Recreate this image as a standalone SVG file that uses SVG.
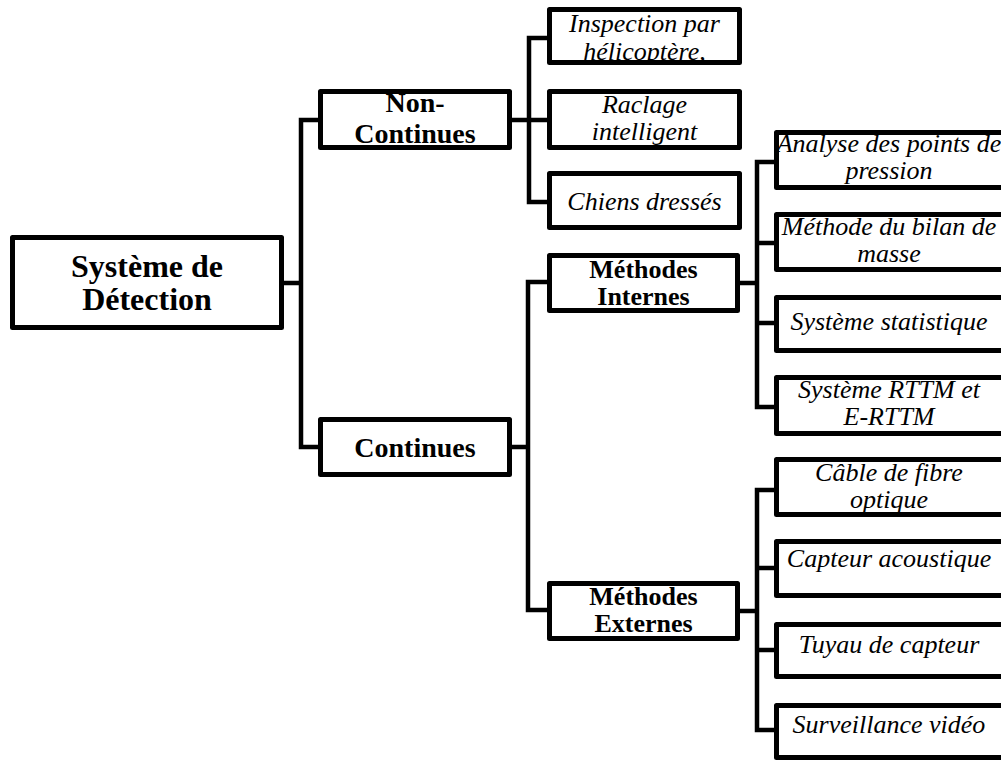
<svg xmlns="http://www.w3.org/2000/svg" width="1001" height="762" viewBox="0 0 1001 762">
<style>
.box{fill:#fff;stroke:#000;stroke-width:5;stroke-linejoin:round}
.con{fill:none;stroke:#000;stroke-width:4.5;stroke-linejoin:miter;stroke-linecap:square}
text{font-family:'Liberation Serif','DejaVu Serif',serif;text-anchor:middle;fill:#000}
.b{font-weight:bold}
.i{font-style:italic;font-size:26px}
</style>
<rect width="1001" height="762" fill="#fff"/>
<g id="connectors">
<path class="con" d="M284 283H301M301 120V447M301 120H318M301 447H318"/>
<path class="con" d="M512 120H529M529 38V202M529 38H547M529 120H547M529 202H547"/>
<path class="con" d="M512 447H528M528 282V610M528 282H547M528 610H547"/>
<path class="con" d="M740 283H757M757 162V407M757 162H774M757 243H774M757 323H774M757 407H774"/>
<path class="con" d="M740 611H757M757 490V730M757 490H774M757 568H774M757 650H774M757 730H774"/>
</g>
<g id="root">
<rect class="box" x="12.5" y="237.5" width="269" height="90"/>
<text class="b" font-size="32" x="147" y="277">Système de</text>
<text class="b" font-size="32" x="147" y="310">Détection</text>
</g>
<g id="non-continues">
<rect class="box" x="320.5" y="91.5" width="189" height="56"/>
<text class="b" font-size="28" x="415" y="112">Non-</text>
<text class="b" font-size="28" x="415" y="143">Continues</text>
</g>
<g id="continues">
<rect class="box" x="320.5" y="419.5" width="189" height="55"/>
<text class="b" font-size="28" x="415" y="457">Continues</text>
</g>
<g id="methodes-internes">
<rect class="box" x="549.5" y="255.5" width="188" height="55"/>
<text class="b" font-size="26" x="643.5" y="278">Méthodes</text>
<text class="b" font-size="26" x="643.5" y="305">Internes</text>
</g>
<g id="methodes-externes">
<rect class="box" x="549.5" y="583.5" width="188" height="55"/>
<text class="b" font-size="26" x="643.5" y="605">Méthodes</text>
<text class="b" font-size="26" x="643.5" y="632">Externes</text>
</g>
<g id="inspection">
<rect class="box" x="549.5" y="9.5" width="190" height="53"/>
<text class="i" x="644.5" y="32">Inspection par</text>
<text class="i" x="644.5" y="60">hélicoptère,</text>
</g>
<g id="raclage">
<rect class="box" x="549.5" y="91.5" width="190" height="56"/>
<text class="i" x="644.5" y="113">Raclage</text>
<text class="i" x="644.5" y="140">intelligent</text>
</g>
<g id="chiens">
<rect class="box" x="549.5" y="173.5" width="190" height="54"/>
<text class="i" x="644.5" y="210">Chiens dressés</text>
</g>
<g id="analyse">
<rect class="box" x="776.5" y="132.5" width="240" height="55"/>
<text class="i" x="889" y="152">Analyse des points de</text>
<text class="i" x="889" y="179">pression</text>
</g>
<g id="bilan">
<rect class="box" x="776.5" y="214.5" width="240" height="55"/>
<text class="i" x="889" y="235">Méthode du bilan de</text>
<text class="i" x="889" y="262">masse</text>
</g>
<g id="statistique">
<rect class="box" x="776.5" y="297.5" width="240" height="53"/>
<text class="i" x="889" y="330">Système statistique</text>
</g>
<g id="rttm">
<rect class="box" x="776.5" y="377.5" width="240" height="56"/>
<text class="i" x="889" y="398">Système RTTM et</text>
<text class="i" x="889" y="425">E-RTTM</text>
</g>
<g id="fibre">
<rect class="box" x="776.5" y="459.5" width="240" height="55"/>
<text class="i" x="889" y="481">Câble de fibre</text>
<text class="i" x="889" y="508">optique</text>
</g>
<g id="acoustique">
<rect class="box" x="776.5" y="541.5" width="240" height="54"/>
<text class="i" x="889" y="567">Capteur acoustique</text>
</g>
<g id="tuyau">
<rect class="box" x="776.5" y="624.5" width="240" height="52"/>
<text class="i" x="889" y="653">Tuyau de capteur</text>
</g>
<g id="video">
<rect class="box" x="776.5" y="705.5" width="240" height="52"/>
<text class="i" x="889" y="733">Surveillance vidéo</text>
</g>
</svg>
